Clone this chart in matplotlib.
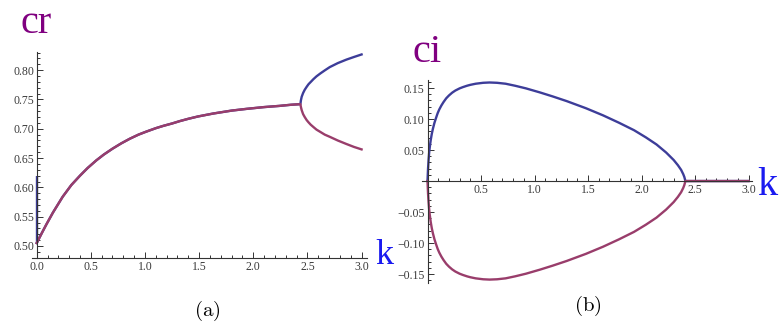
import matplotlib.pyplot as plt
from matplotlib.ticker import MultipleLocator, FuncFormatter

plt.rcParams['mathtext.fontset'] = 'cm'

# real part cr(k): common branch up to the bifurcation, then two branches
k_main = [0, 0.05, 0.09, 0.15, 0.24, 0.32, 0.40, 0.47, 0.55, 0.62, 0.70, 0.78,
          0.86, 0.94, 1.01, 1.10, 1.17, 1.25, 1.32, 1.40, 1.49, 1.63, 1.80,
          1.94, 2.10, 2.24, 2.35, 2.435]
cr_main = [0.505, 0.523, 0.537, 0.557, 0.584, 0.604, 0.620, 0.633, 0.646,
           0.656, 0.666, 0.675, 0.683, 0.690, 0.695, 0.701, 0.705, 0.709,
           0.713, 0.717, 0.721, 0.726, 0.731, 0.734, 0.737, 0.739, 0.741, 0.742]
k_branch = [2.44, 2.447, 2.46, 2.475, 2.493, 2.51, 2.53, 2.555, 2.584, 2.62,
            2.66, 2.706, 2.78, 2.86, 2.93, 3.0]
cr_upper = [0.7487, 0.7546, 0.761, 0.7665, 0.7716, 0.776, 0.7798, 0.7846,
            0.7895, 0.7945, 0.7996, 0.8052, 0.812, 0.818, 0.8225, 0.8268]
cr_lower = [0.737, 0.7318, 0.725, 0.720, 0.7148, 0.711, 0.707, 0.703, 0.6985,
            0.6945, 0.690, 0.6863, 0.680, 0.674, 0.669, 0.6648]
# vertical piece of the first root at k = 0
cr_k0 = [0.62, 0.505]

# imaginary part ci(k); the two roots are complex conjugates up to k ~ 2.41
k_ci = [0, 0.005, 0.01, 0.015, 0.02, 0.03, 0.04, 0.05, 0.065, 0.08, 0.095,
        0.11, 0.13, 0.15, 0.175, 0.2, 0.23, 0.26, 0.3, 0.33, 0.37, 0.4, 0.45,
        0.52, 0.58, 0.65, 0.73, 0.82, 0.92, 1.05, 1.17, 1.3, 1.48, 1.64, 1.79,
        1.93, 2.04, 2.14, 2.23, 2.30, 2.34, 2.37, 2.39, 2.40, 2.41, 3.0]
ci_upper = [0, 0.02, 0.034, 0.045, 0.053, 0.066, 0.076, 0.084, 0.094, 0.102,
            0.1095, 0.1155, 0.122, 0.1275, 0.1335, 0.138, 0.1425, 0.146,
            0.1495, 0.1515, 0.1538, 0.1552, 0.157, 0.1585, 0.159, 0.1585,
            0.157, 0.1537, 0.1495, 0.143, 0.1365, 0.129, 0.1175, 0.106, 0.094,
            0.082, 0.0705, 0.059, 0.046, 0.034, 0.0255, 0.018, 0.011, 0.0065,
            0, 0]
ci_lower = [0, -0.02, -0.034, -0.045, -0.053, -0.066, -0.076, -0.084, -0.094,
            -0.102, -0.1095, -0.1155, -0.122, -0.1275, -0.1335, -0.138,
            -0.1425, -0.146, -0.1495, -0.1515, -0.1538, -0.1552, -0.157,
            -0.1585, -0.159, -0.1585, -0.157, -0.1537, -0.1495, -0.143,
            -0.1365, -0.129, -0.1175, -0.106, -0.094, -0.082, -0.0705, -0.059,
            -0.046, -0.034, -0.0255, -0.018, -0.011, -0.0065, 0, 0]

blue = (0.24, 0.24, 0.6)
red = (0.6, 0.24, 0.42)
axis_col = '#333333'
tick_font = dict(family='Liberation Serif', size=8.5)
lw = 1.7

fig = plt.figure(figsize=(7.83, 3.32), dpi=100)
ax1 = fig.add_axes([0.0405, 0.2229, 0.4282, 0.6205])
ax2 = fig.add_axes([0.5386, 0.1476, 0.4215, 0.6114])


def style_axes(ax):
    for s in ('top', 'right'):
        ax.spines[s].set_visible(False)
    for s in ('left', 'bottom'):
        ax.spines[s].set_color(axis_col)
        ax.spines[s].set_linewidth(0.8)
    ax.patch.set_alpha(0)
    ax.tick_params(which='both', direction='in', color=axis_col, width=0.7,
                   labelcolor='#3a3a3a', pad=2)
    ax.tick_params(which='major', length=4.5)
    ax.tick_params(which='minor', length=2.5)
    for lab in ax.get_xticklabels() + ax.get_yticklabels():
        lab.set_fontfamily(tick_font['family'])
        lab.set_fontsize(tick_font['size'])


# (a) real part
ax1.plot([0, 0], cr_k0, color=blue, lw=lw, solid_capstyle='butt')
ax1.plot(k_main + k_branch, cr_main + cr_upper, color=blue, lw=lw)
ax1.plot(k_main + k_branch, cr_main + cr_lower, color=red, lw=lw)
ax1.set_xlim(-0.046, 3.05)
ax1.set_ylim(0.4795, 0.831)
ax1.spines['left'].set_position(('data', 0))
ax1.xaxis.set_major_locator(MultipleLocator(0.5))
ax1.xaxis.set_minor_locator(MultipleLocator(0.1))
ax1.yaxis.set_major_locator(MultipleLocator(0.05))
ax1.yaxis.set_minor_locator(MultipleLocator(0.01))
ax1.xaxis.set_major_formatter(FuncFormatter(lambda v, p: f'{v:.1f}'))
ax1.yaxis.set_major_formatter(FuncFormatter(lambda v, p: f'{v:.2f}'))
style_axes(ax1)

# (b) imaginary part
ax2.plot(k_ci, ci_upper, color=blue, lw=lw)
ax2.plot(k_ci, ci_lower, color=red, lw=lw)
ax2.set_xlim(-0.054, 3.03)
ax2.set_ylim(-0.1645, 0.163)
ax2.spines['left'].set_position(('data', 0))
ax2.spines['bottom'].set_position(('data', 0))
ax2.xaxis.set_major_locator(MultipleLocator(0.5))
ax2.xaxis.set_minor_locator(MultipleLocator(0.1))
ax2.yaxis.set_major_locator(MultipleLocator(0.05))
ax2.yaxis.set_minor_locator(MultipleLocator(0.01))
ax2.xaxis.set_major_formatter(FuncFormatter(lambda v, p: '' if abs(v) < 1e-9 else f'{v:.1f}'))
ax2.yaxis.set_major_formatter(FuncFormatter(
    lambda v, p: '' if abs(v) < 1e-9 else f'{v:.2f}'.replace('-', '\u2212')))
style_axes(ax2)

W, H = 783, 332
big = dict(family='Liberation Serif', va='baseline', ha='left')
fig.text(20 / W, 1 - 33 / H, 'cr', color='#800080', size=29, **big)
fig.text(413 / W, 1 - 62 / H, 'ci', color='#800080', size=29, **big)
fig.text(375 / W, 1 - 264 / H, 'k', color='#1a1af0', size=26, **big)
fig.text(757 / W, 1 - 195 / H, 'k', color='#1a1af0', size=29, **big)

fig.text(207 / W, 1 - 311 / H, r'$(\mathrm{a})$', size=15, ha='center', va='center')
fig.text(588 / W, 1 - 306 / H, r'$(\mathrm{b})$', size=15, ha='center', va='center')

fig.savefig('out.png', dpi=100)
